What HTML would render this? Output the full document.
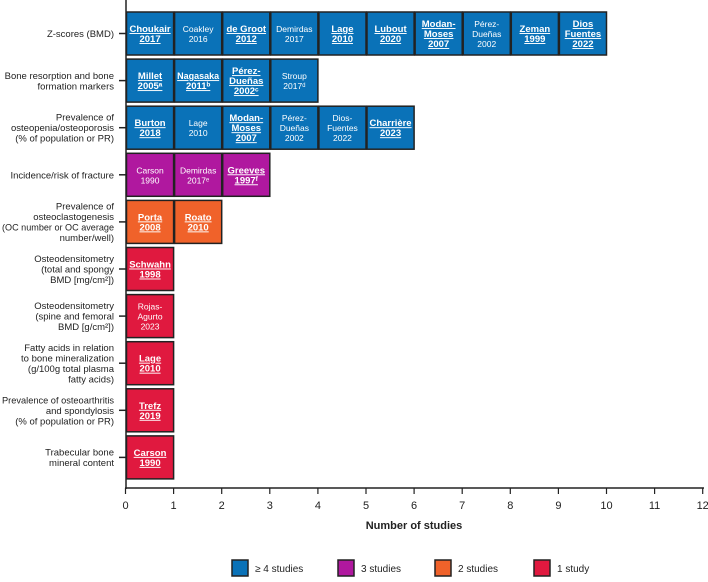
<!DOCTYPE html>
<html><head><meta charset="utf-8"><style>
body{margin:0;background:#fff;width:708px;height:577px;overflow:hidden}
svg{font-family:"Liberation Sans",sans-serif}
</style></head><body>
<svg id="c" width="708" height="577"></svg>
<script>
const categories=["Z-scores (BMD)","Bone resorption and bone|formation markers","Prevalence of|osteopenia/osteoporosis|(% of population or PR)","Incidence/risk of fracture","Prevalence of|osteoclastogenesis|(OC number or OC average|number/well)","Osteodensitometry|(total and spongy|BMD [mg/cm²])","Osteodensitometry|(spine and femoral|BMD [g/cm²])","Fatty acids in relation|to bone mineralization|(g/100g total plasma|fatty acids)","Prevalence of osteoarthritis|and spondylosis|(% of population or PR)","Trabecular bone|mineral content"];
const counts=[10,4,6,3,2,1,1,1,1,1];
const studies=[
["*Choukair|2017","Coakley|2016","*de Groot|2012","Demirdas|2017","*Lage|2010","*Lubout|2020","*Modan-|Moses|2007","Pérez-|Dueñas|2002","*Zeman|1999","*Dios|Fuentes|2022"],
["*Millet|2005ᵃ","*Nagasaka|2011ᵇ","*Pérez-|Dueñas|2002ᶜ","Stroup|2017ᵈ"],
["*Burton|2018","Lage|2010","*Modan-|Moses|2007","Pérez-|Dueñas|2002","Dios-|Fuentes|2022","*Charrière|2023"],
["Carson|1990","Demirdas|2017ᵉ","*Greeves|1997ᶠ"],
["*Porta|2008","*Roato|2010"],
["*Schwahn|1998"],["Rojas-|Agurto|2023"],["*Lage|2010"],["*Trefz|2019"],["*Carson|1990"]];
const xTicks=[0,1,2,3,4,5,6,7,8,9,10,11,12];
const legendLabels=["≥ 4 studies","3 studies","2 studies","1 study"];
const colors=["#0a72b8","#b0189f","#f0622a","#e0193f"];
const svg=document.getElementById('c');const NS="http://www.w3.org/2000/svg";
const x=v=>125.5+v*48.1;const rowTop=i=>12+i*47.1;const rowH=43;
function el(t,a,p){const e=document.createElementNS(NS,t);for(const k in a)e.setAttribute(k,a[k]);(p||svg).appendChild(e);return e;}
function col(n){return n>=4?colors[0]:n==3?colors[1]:n==2?colors[2]:colors[3];}
function fit(sp,max){const w=sp.getComputedTextLength();if(w>max){sp.setAttribute('textLength',max);sp.setAttribute('lengthAdjust','spacingAndGlyphs');}}
categories.forEach((c,i)=>{
 const cy=rowTop(i)+rowH/2;
 const lines=c.split('|');
 const t=el('text',{x:114,'text-anchor':'end','font-size':'9.5',fill:'#222'});
 
 
 lines.forEach((l,j)=>{const s=el('tspan',{x:114,y:cy+3.5+(j-(lines.length-1)/2)*10.5},t);s.textContent=l;fit(s,112);});
 el('line',{x1:119,x2:126,y1:cy,y2:cy,stroke:'#222','stroke-width':1.5});
 studies[i].forEach((s,j)=>{
  const g=el('g',{});
  
  
  el('rect',{x:x(j)+1,y:rowTop(i),width:x(j+1)-x(j)-1,height:rowH,fill:col(counts[i]),stroke:'#222','stroke-width':1.5},g);
  const bold=s[0]=='*';const ls=(bold?s.slice(1):s).split('|');
  const tt=el('text',{'text-anchor':'middle','font-size':bold?'9.5':'8.5',fill:'#fff','font-weight':bold?'bold':'normal','text-decoration':bold?'underline':'none'},g);
  ls.forEach((l,k)=>{const sp=el('tspan',{x:(x(j)+x(j+1))/2+0.5,y:cy+3.5+(k-(ls.length-1)/2)*10},tt);sp.textContent=l;fit(sp,42);});
 });
});
el('line',{x1:126,x2:126,y1:0,y2:489,stroke:'#222','stroke-width':1.5});
el('line',{x1:125,x2:704,y1:488,y2:488,stroke:'#222','stroke-width':1.5});
xTicks.forEach(v=>{
 el('line',{x1:x(v),x2:x(v),y1:488,y2:494,stroke:'#222','stroke-width':1.2});
 const t=el('text',{x:x(v),y:509,'text-anchor':'middle','font-size':'11',fill:'#222'});
 
 
 t.textContent=v;
});
const xt=el('text',{x:414,y:529,'text-anchor':'middle','font-size':'11','font-weight':'bold',fill:'#222'});


xt.textContent='Number of studies';
const lx=[232,338,435,534];
legendLabels.forEach((l,i)=>{
 const g=el('g',{});
 
 
 el('rect',{x:lx[i],y:560,width:16,height:16,fill:colors[i],stroke:'#222','stroke-width':1.5},g);
 const t=el('text',{x:lx[i]+23,y:572,'font-size':'10',fill:'#222'},g);t.textContent=l;
});
</script>
</body></html>
